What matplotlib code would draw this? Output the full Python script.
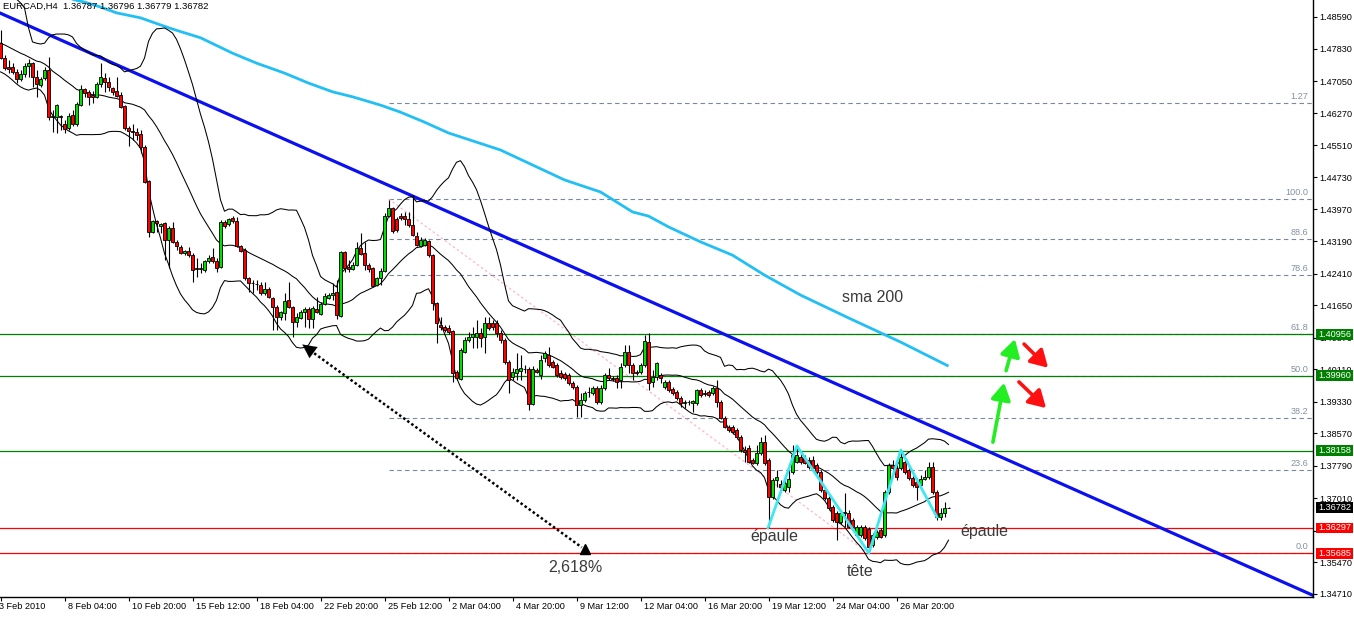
import numpy as np
import pandas as pd
import matplotlib
matplotlib.use("Agg")
import matplotlib.pyplot as plt
from matplotlib.transforms import blended_transform_factory
from matplotlib.patches import Rectangle, FancyArrowPatch

plt.rcParams['font.family'] = ['Liberation Sans', 'DejaVu Sans']

# ---------------- data ----------------
opens = [
1.4796,1.4760,1.4739,1.4739,1.4727,1.4710,1.4722,1.4741,1.4748,1.4715,
1.4695,1.4712,1.4732,1.4618,1.4618,1.4621,1.4602,1.4592,1.4623,1.4602,
1.4647,1.4686,1.4679,1.4671,1.4667,1.4698,1.4712,1.4703,1.4688,1.4681,
1.4671,1.4645,1.4592,1.4585,1.4582,1.4578,1.4546,1.4464,1.4342,1.4368,
1.4356,1.4363,1.4323,1.4351,1.4318,1.4306,1.4291,1.4296,1.4286,1.4255,
1.4253,1.4250,1.4272,1.4282,1.4272,1.4258,1.4366,1.4361,1.4375,1.4368,
1.4308,1.4298,1.4231,1.4219,1.4217,1.4214,1.4195,1.4205,1.4183,1.4161,
1.4137,1.4147,1.4178,1.4161,1.4125,1.4135,1.4149,1.4156,1.4132,1.4156,
1.4144,1.4169,1.4183,1.4190,1.4197,1.4140,1.4294,1.4258,1.4253,1.4262,
1.4303,1.4291,1.4262,1.4255,1.4214,1.4231,1.4248,1.4380,1.4400,1.4373,
1.4380,1.4380,1.4373,1.4359,1.4332,1.4308,1.4310,1.4320,1.4286,1.4171,
1.4118,1.4113,1.4111,1.4104,1.4005,1.3988,1.4053,1.4082,1.4089,1.4089,
1.4099,1.4089,1.4123,1.4123,1.4123,1.4099,1.4082,1.4029,1.3993,1.4003,
1.4007,1.4012,1.4012,1.3928,1.4010,1.3998,1.4039,1.4046,1.4029,1.4022,
1.4003,1.4000,1.3998,1.3978,1.3969,1.3925,1.3938,1.3957,1.3954,1.3966,
1.3933,1.3966,1.3998,1.3990,1.3990,1.3986,1.4022,1.4053,1.4022,1.4005,
1.4005,1.4022,1.4077,1.3981,1.3993,1.3998,1.3969,1.3981,1.3964,1.3957,
1.3942,1.3930,1.3933,1.3930,1.3930,1.3962,1.3954,1.3957,1.3954,1.3966,
1.3933,1.3894,1.3873,1.3873,1.3865,1.3849,1.3817,1.3822,1.3793,1.3786,
1.3810,1.3836,1.3793,1.3704,1.3745,1.3735,1.3721,1.3728,1.3764,1.3788,
1.3800,1.3798,1.3793,1.3793,1.3781,1.3764,1.3721,1.3702,1.3680,1.3666,
1.3644,1.3666,1.3666,1.3649,1.3613,1.3613,1.3632,1.3627,1.3589,1.3608,
1.3625,1.3613,1.3716,1.3781,1.3774,1.3774,1.3788,1.3769,1.3750,1.3740,
1.3733,1.3747,1.3752,1.3776,1.3716,1.3656,1.3666,1.36787]

highs = [
1.4828,1.4768,1.4756,1.4748,1.4734,1.4732,1.4748,1.4758,1.4751,1.4732,
1.4715,1.4739,1.4763,1.4635,1.4650,1.4623,1.4611,1.4628,1.4635,1.4655,
1.4695,1.4688,1.4683,1.4681,1.4703,1.4748,1.4724,1.4715,1.4691,1.4715,
1.4679,1.4647,1.4597,1.4602,1.4592,1.4587,1.4551,1.4467,1.4371,1.4371,
1.4363,1.4366,1.4356,1.4366,1.4323,1.4310,1.4298,1.4306,1.4291,1.4279,
1.4267,1.4274,1.4286,1.4303,1.4279,1.4371,1.4371,1.4375,1.4380,1.4378,
1.4310,1.4303,1.4233,1.4226,1.4226,1.4221,1.4221,1.4209,1.4185,1.4166,
1.4152,1.4195,1.4221,1.4164,1.4147,1.4154,1.4161,1.4161,1.4164,1.4185,
1.4173,1.4195,1.4195,1.4219,1.4226,1.4296,1.4296,1.4274,1.4270,1.4318,
1.4339,1.4318,1.4267,1.4258,1.4233,1.4255,1.4387,1.4419,1.4402,1.4378,
1.4387,1.4390,1.4390,1.4431,1.4342,1.4330,1.4327,1.4323,1.4289,1.4173,
1.4137,1.4118,1.4118,1.4106,1.4010,1.4063,1.4089,1.4101,1.4113,1.4130,
1.4111,1.4137,1.4137,1.4130,1.4130,1.4106,1.4087,1.4034,1.4015,1.4051,
1.4046,1.4022,1.4017,1.4019,1.4015,1.4046,1.4055,1.4065,1.4034,1.4027,
1.4010,1.4005,1.4003,1.3983,1.3974,1.3954,1.3959,1.3969,1.3971,1.3971,
1.3974,1.4003,1.4015,1.3995,1.3998,1.4027,1.4070,1.4070,1.4027,1.4010,
1.4027,1.4094,1.4099,1.4010,1.4029,1.4003,1.3986,1.3986,1.3969,1.3962,
1.3947,1.3938,1.3938,1.3938,1.3964,1.3966,1.3962,1.3962,1.3971,1.3986,
1.3938,1.3899,1.3877,1.3877,1.3870,1.3853,1.3827,1.3829,1.3798,1.3829,
1.3849,1.3853,1.3798,1.3750,1.3769,1.3745,1.3752,1.3769,1.3829,1.3824,
1.3810,1.3805,1.3800,1.3803,1.3786,1.3769,1.3726,1.3707,1.3685,1.3670,
1.3673,1.3714,1.3673,1.3654,1.3637,1.3637,1.3637,1.3632,1.3618,1.3625,
1.3630,1.3721,1.3786,1.3793,1.3781,1.3812,1.3798,1.3774,1.3755,1.3750,
1.3757,1.3769,1.3788,1.3788,1.3721,1.3678,1.3692,1.36796]

lows = [
1.4758,1.4732,1.4724,1.4722,1.4700,1.4705,1.4715,1.4715,1.4691,1.4667,
1.4691,1.4707,1.4611,1.4582,1.4580,1.4587,1.4580,1.4587,1.4597,1.4597,
1.4645,1.4667,1.4647,1.4652,1.4664,1.4691,1.4679,1.4681,1.4671,1.4667,
1.4640,1.4587,1.4549,1.4563,1.4563,1.4532,1.4460,1.4330,1.4339,1.4342,
1.4339,1.4274,1.4255,1.4315,1.4298,1.4289,1.4286,1.4282,1.4221,1.4233,
1.4243,1.4246,1.4267,1.4267,1.4246,1.4255,1.4351,1.4356,1.4363,1.4306,
1.4294,1.4226,1.4197,1.4195,1.4202,1.4190,1.4190,1.4183,1.4106,1.4106,
1.4130,1.4130,1.4159,1.4089,1.4113,1.4132,1.4113,1.4111,1.4111,1.4147,
1.4142,1.4166,1.4181,1.4178,1.4132,1.4137,1.4246,1.4246,1.4250,1.4260,
1.4286,1.4250,1.4246,1.4209,1.4212,1.4214,1.4246,1.4378,1.4339,1.4342,
1.4371,1.4359,1.4354,1.4332,1.4308,1.4306,1.4308,1.4282,1.4154,1.4075,
1.4106,1.4101,1.4096,1.3981,1.3986,1.3986,1.4051,1.4077,1.4063,1.4063,
1.4065,1.4051,1.4106,1.4106,1.4089,1.4075,1.4024,1.3954,1.3986,1.3986,
1.3986,1.4003,1.3913,1.3925,1.4003,1.3988,1.4029,1.4017,1.4015,1.3993,
1.3988,1.3986,1.3974,1.3964,1.3897,1.3897,1.3933,1.3945,1.3950,1.3928,
1.3928,1.3962,1.3986,1.3983,1.3966,1.3966,1.4017,1.4003,1.3986,1.3998,
1.4000,1.4017,1.3962,1.3969,1.3986,1.3978,1.3964,1.3957,1.3950,1.3938,
1.3921,1.3918,1.3925,1.3909,1.3925,1.3945,1.3947,1.3945,1.3950,1.3921,
1.3892,1.3870,1.3861,1.3856,1.3844,1.3812,1.3788,1.3786,1.3784,1.3781,
1.3805,1.3781,1.3630,1.3699,1.3728,1.3721,1.3716,1.3716,1.3760,1.3786,
1.3784,1.3784,1.3772,1.3769,1.3760,1.3716,1.3697,1.3673,1.3644,1.3601,
1.3639,1.3632,1.3630,1.3625,1.3608,1.3608,1.3601,1.3569,1.3584,1.3603,
1.3606,1.3608,1.3711,1.3769,1.3745,1.3769,1.3760,1.3745,1.3728,1.3697,
1.3728,1.3745,1.3747,1.3711,1.3649,1.3649,1.3656,1.36779]

closes = [
1.4760,1.4736,1.4734,1.4727,1.4710,1.4722,1.4741,1.4748,1.4715,1.4698,
1.4710,1.4732,1.4618,1.4621,1.4647,1.4618,1.4590,1.4621,1.4602,1.4650,
1.4686,1.4676,1.4667,1.4667,1.4698,1.4715,1.4703,1.4691,1.4679,1.4669,
1.4643,1.4592,1.4585,1.4582,1.4575,1.4546,1.4462,1.4342,1.4368,1.4363,
1.4361,1.4323,1.4351,1.4318,1.4308,1.4291,1.4296,1.4286,1.4250,1.4253,
1.4255,1.4272,1.4279,1.4272,1.4255,1.4366,1.4356,1.4373,1.4368,1.4308,
1.4296,1.4231,1.4219,1.4218,1.4216,1.4195,1.4205,1.4185,1.4161,1.4137,
1.4149,1.4176,1.4161,1.4125,1.4137,1.4149,1.4156,1.4132,1.4159,1.4149,
1.4169,1.4188,1.4190,1.4195,1.4142,1.4294,1.4255,1.4253,1.4262,1.4303,
1.4289,1.4262,1.4253,1.4212,1.4231,1.4248,1.4380,1.4400,1.4344,1.4347,
1.4375,1.4373,1.4359,1.4334,1.4310,1.4323,1.4323,1.4286,1.4171,1.4123,
1.4113,1.4106,1.4101,1.4003,1.3990,1.4058,1.4082,1.4089,1.4096,1.4099,
1.4087,1.4123,1.4111,1.4113,1.4099,1.4082,1.4029,1.3986,1.4005,1.4012,
1.4015,1.4011,1.3928,1.4012,1.4005,1.4034,1.4051,1.4022,1.4017,1.3998,
1.3993,1.3990,1.3978,1.3969,1.3925,1.3938,1.3954,1.3956,1.3966,1.3933,
1.3966,1.3998,1.3990,1.3988,1.3981,1.4017,1.4053,1.4022,1.4003,1.4003,
1.4022,1.4080,1.3978,1.3993,1.4027,1.3990,1.3981,1.3962,1.3954,1.3942,
1.3930,1.3933,1.3932,1.3935,1.3962,1.3950,1.3952,1.3950,1.3966,1.3933,
1.3894,1.3873,1.3865,1.3861,1.3849,1.3817,1.3812,1.3788,1.3786,1.3810,
1.3836,1.3786,1.3704,1.3745,1.3752,1.3728,1.3738,1.3747,1.3805,1.3805,
1.3788,1.3786,1.3776,1.3774,1.3764,1.3721,1.3702,1.3678,1.3649,1.3644,
1.3666,1.3668,1.3632,1.3632,1.3632,1.3632,1.3606,1.3584,1.3613,1.3620,
1.3608,1.3716,1.3781,1.3774,1.3752,1.3800,1.3764,1.3750,1.3733,1.3728,
1.3747,1.3752,1.3776,1.3716,1.3656,1.3666,1.3678,1.36782]

# Bollinger band values read for the first bars (no earlier history available)
early_upper = [1.4960,1.4943,1.4929,1.4914,1.4902,1.4893,1.4881,1.4833,1.4799,1.4796,
               1.4794,1.4796,1.4809,1.4816,1.4818,1.4818,1.4818,1.4816,1.4811]
early_mid = [1.4796,1.4792,1.4787,1.4782,1.4777,1.4772,1.4768,1.4763,1.4758,1.4753,
             1.4751,1.4746,1.4739,1.4729,1.4722,1.4715,1.4707,1.4700,1.4693]
early_lower = [1.4727,1.4722,1.4715,1.4707,1.4698,1.4691,1.4686,1.4683,1.4686,1.4688,
               1.4683,1.4671,1.4640,1.4623,1.4611,1.4599,1.4592,1.4585,1.4580]

# SMA 200
sma_bars = [17,19,21,25,29,35,40,43,50,58,64,71,77,83,88,95,100,106,112,125,141,150,
            158,162,167,175,183,191,200,212,225,237]
sma_vals = [1.4905,1.4899,1.4895,1.4883,1.4869,1.4857,1.4840,1.4830,1.4809,1.4772,1.4748,
            1.4724,1.4700,1.4679,1.4667,1.4647,1.4630,1.4606,1.4580,1.4539,1.4467,1.4438,
            1.4390,1.4380,1.4354,1.4318,1.4286,1.4238,1.4190,1.4135,1.4077,1.4019]

trend_bars = [0, 328]
trend_prices = [1.4868, 1.3468]

green_levels = [1.40956, 1.39960, 1.38158]
red_levels = [1.36297, 1.35685]
bid_price = 1.36782

fib_hi_bar, fib_hi = 97, 1.44214
fib_lo_bar, fib_lo = 217, 1.35685
fib_ratios = [0.0, 0.236, 0.382, 0.5, 0.618, 0.786, 0.886, 1.0, 1.27]
fib_labels = ['0.0', '23.6', '38.2', '50.0', '61.8', '78.6', '88.6', '100.0', '1.27']

hs_bars = [191.9, 199.1, 217.1, 225.1, 234.1]
hs_prices = [1.3630, 1.3827, 1.3569, 1.3817, 1.3656]

price_ticks = [1.48590, 1.47830, 1.47050, 1.46270, 1.45510, 1.44730, 1.43970, 1.43190,
               1.42410, 1.41650, 1.40870, 1.40110, 1.39330, 1.38570, 1.37790, 1.37010,
               1.36230, 1.35470, 1.34710]
hidden_tick_labels = [1.36230]
date_bars = [0, 16, 32, 48, 64, 80, 96, 112, 128, 144, 160, 176, 192, 208, 224]
date_labels = ['3 Feb 2010', '8 Feb 04:00', '10 Feb 20:00', '15 Feb 12:00', '18 Feb 04:00',
               '22 Feb 20:00', '25 Feb 12:00', '2 Mar 04:00', '4 Mar 20:00', '9 Mar 12:00',
               '12 Mar 04:00', '16 Mar 20:00', '19 Mar 12:00', '24 Mar 04:00', '26 Mar 20:00']

# ---------------- figure ----------------
W, H = 1354, 619
fig = plt.figure(figsize=(W / 100, H / 100), dpi=100)
fig.patch.set_facecolor('white')
ax = fig.add_axes([0, 22 / H, 1313 / W, 597 / H])
ax.set_xlim(-0.125, 328.125)
ax.set_ylim(1.34635, 1.48999)
for s in ['top', 'left']:
    ax.spines[s].set_visible(False)
for s in ['right', 'bottom']:
    ax.spines[s].set_color('black')
    ax.spines[s].set_linewidth(1.0)

n = min(len(opens), len(highs), len(lows), len(closes))
o = np.array(opens[:n]); h = np.array(highs[:n]); l = np.array(lows[:n]); c = np.array(closes[:n])
idx = np.arange(n)

# Fibonacci
fib_rng = fib_hi - fib_lo
xr = 328.125
for r, lab in zip(fib_ratios, fib_labels):
    p = fib_lo + r * fib_rng
    ax.plot([fib_hi_bar, xr], [p, p], color='#7a8899', lw=0.8, ls=(0, (4, 3)), zorder=1)
    ax.annotate(lab, xy=(327.0, p), xytext=(0, 1.5), textcoords='offset points',
                ha='right', va='bottom', fontsize=6.6, color='#8391a2', zorder=1)
ax.plot([fib_hi_bar, fib_lo_bar], [fib_hi, fib_lo], color='#ffb6c8', lw=0.9,
        ls=(0, (2, 2)), zorder=1)

# horizontal lines
for p in green_levels:
    ax.axhline(p, color='#008000', lw=0.9, zorder=1.5)
for p in red_levels:
    ax.axhline(p, color='#ff0000', lw=0.9, zorder=1.5)

# SMA 200
ax.plot(sma_bars, sma_vals, color='#22bff5', lw=2.0, zorder=2, solid_capstyle='butt')

# Trend line
ax.plot(trend_bars, trend_prices, color='#0a10f0', lw=2.3, zorder=2)

# Bollinger bands (20, 2)
cs = pd.Series(c)
mid = cs.rolling(20).mean()
sd = cs.rolling(20).std(ddof=0)
up = (mid + 2 * sd).to_numpy()
lo = (mid - 2 * sd).to_numpy()
mid = mid.to_numpy()
k = len(early_mid)
up[:k] = early_upper
mid[:k] = early_mid
lo[:k] = early_lower
for arr in (up, mid, lo):
    ax.plot(idx, arr, color='black', lw=0.75, zorder=3)

# candles
ax.vlines(idx, l, h, color='black', lw=0.8, zorder=4)
cols = np.where(c > o, '#00e000', np.where(c < o, '#ff0000', 'black'))
ax.bar(idx, c - o, bottom=o, width=0.68, color=cols, edgecolor='black',
       linewidth=0.6, zorder=5)

# head & shoulders lines
ax.plot(hs_bars, hs_prices, color='#3ee8f2', lw=2.0, zorder=6)

# dotted arrow (2,618%)
a_start = (74.9, 1.4075)
a_end = (146.1, 1.3579)
ax.plot([a_start[0] + 1.5, a_end[0] - 0.8], [a_start[1] - 0.0011, a_end[1] + 0.0004],
        color='black', lw=1.8, ls=(0, (1, 1)), zorder=6)
ax.annotate('', xy=a_start, xytext=(a_start[0] + 3.0, a_start[1] - 0.0021),
            arrowprops=dict(arrowstyle='-|>,head_length=0.7,head_width=0.35',
                            color='black', lw=0.1, mutation_scale=14), zorder=6)
ax.plot([a_end[0]], [a_end[1]], marker='^', ms=7, color='black', zorder=6)

# green / red arrows
def arrow(p0, p1, color):
    ax.add_patch(FancyArrowPatch(p0, p1, arrowstyle='-|>,head_length=0.6,head_width=0.35',
                                 mutation_scale=17, color=color, lw=2.6, zorder=7,
                                 shrinkA=0, shrinkB=0))

arrow((248.1, 1.3836), (250.9, 1.3979), '#22ee22')
arrow((251.4, 1.4008), (253.6, 1.4084), '#22ee22')
arrow((255.9, 1.4072), (261.9, 1.4015), '#ff1010')
arrow((254.6, 1.3981), (261.4, 1.3918), '#ff1010')

# annotations
tcol = '#3a3a3a'
ax.text(210.4, 1.4183, 'sma 200', fontsize=11.5, color=tcol, ha='left', va='center', zorder=8)
ax.text(143.6, 1.3535, '2,618%', fontsize=11.5, color=tcol, ha='center', va='center', zorder=8)
ax.text(193.4, 1.3608, 'épaule', fontsize=11.5, color=tcol, ha='center', va='center', zorder=8)
ax.text(214.9, 1.3524, 'tête', fontsize=11.5, color=tcol, ha='center', va='center', zorder=8)
ax.text(245.9, 1.3620, 'épaule', fontsize=11.5, color=tcol, ha='center', va='center', zorder=8)

# right price axis
ax.yaxis.tick_right()
ax.set_yticks(price_ticks)
ax.set_yticklabels(['' if p in hidden_tick_labels else '%.5f' % p for p in price_ticks])
ax.tick_params(axis='y', length=3, width=0.8, pad=1.5, labelsize=6.6, colors='black')
ax.set_xticks(date_bars)
ax.set_xticklabels([])
ax.tick_params(axis='x', length=3, width=0.8, direction='out')

tb = blended_transform_factory(ax.transAxes, ax.transData)
box_h = 0.00130
for p, fc in [(green_levels[0], '#008000'), (green_levels[1], '#008000'),
              (green_levels[2], '#008000'), (bid_price, 'black'),
              (red_levels[0], '#ff0000'), (red_levels[1], '#ff0000')]:
    ax.add_patch(Rectangle((1316 / 1313, p - box_h), 37 / 1313, 2 * box_h, transform=tb,
                           facecolor=fc, edgecolor='none', clip_on=False, zorder=10))
    ax.text(1318.5 / 1313, p, '%.5f' % p, transform=tb, color='white', fontsize=6.6,
            ha='left', va='center', clip_on=False, zorder=11)

# date labels
tx = blended_transform_factory(ax.transData, ax.transAxes)
for b, lab in zip(date_bars, date_labels):
    xx = b + 0.8 if b > 0 else -0.4
    ax.text(xx, -9.5 / 597, lab, transform=tx, fontsize=6.6, ha='left', va='center',
            clip_on=False)

fig.text(3 / W, 1 - 6.5 / H, 'EURCAD,H4  1.36787 1.36796 1.36779 1.36782',
         fontsize=6.8, ha='left', va='center', color='black')

fig.savefig('out.png', dpi=100, facecolor='white')
